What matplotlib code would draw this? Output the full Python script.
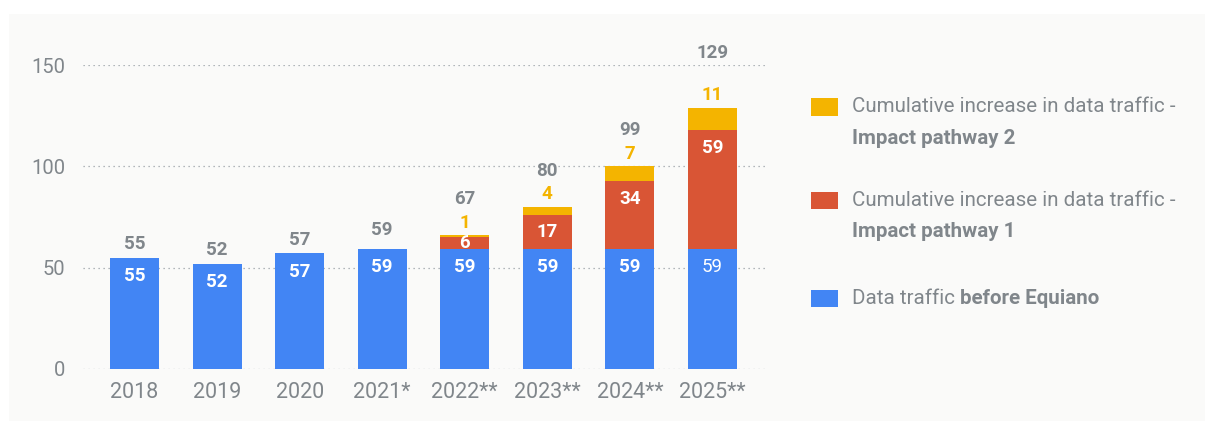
import matplotlib.pyplot as plt
from matplotlib.patches import Rectangle

# Data traffic per year, split into baseline and the two impact pathways
years = ['2018', '2019', '2020', '2021*', '2022**', '2023**', '2024**', '2025**']
before_equiano = [55, 52, 57, 59, 59, 59, 59, 59]
pathway_1 = [0, 0, 0, 0, 6, 17, 34, 59]
pathway_2 = [0, 0, 0, 0, 1, 4, 7, 11]
totals = [55, 52, 57, 59, 67, 80, 99, 129]

BLUE = '#4285F4'
RED = '#D95535'
YELLOW = '#F4B400'
GRAY = '#80868B'
PANEL = '#FAFAF9'

plt.rcParams['font.family'] = ['Roboto', 'DejaVu Sans']

W, H = 1205, 421
fig = plt.figure(figsize=(W / 100, H / 100), dpi=100)
fig.patch.set_facecolor('white')
fig.patches.append(Rectangle((9 / W, 0), 1 - 9 / W, (H - 14) / H,
                             transform=fig.transFigure, facecolor=PANEL,
                             edgecolor='none', zorder=-10))

ax = fig.add_axes([83 / W, (H - 369) / H, 685 / W, 304 / H])
ax.set_facecolor('none')
for s in ax.spines.values():
    s.set_visible(False)

x = list(range(len(years)))
width = 0.593
bottom_red = before_equiano
bottom_yellow = [b + r for b, r in zip(before_equiano, pathway_1)]
stack_top = [b + y for b, y in zip(bottom_yellow, pathway_2)]

ax.bar(x, before_equiano, width, color=BLUE, zorder=3)
ax.bar(x, pathway_1, width, bottom=bottom_red, color=RED, zorder=3)
ax.bar(x, pathway_2, width, bottom=bottom_yellow, color=YELLOW, zorder=3)

ax.set_xlim(-0.624, 7.672)
ax.set_ylim(0, 150)
ax.set_yticks([0, 50, 100, 150])
ax.set_xticks(x)
ax.set_xticklabels(years)
ax.tick_params(axis='y', length=0, pad=13, labelsize=14.5, labelcolor=GRAY)
ax.tick_params(axis='x', length=0, pad=9, labelsize=15.5, labelcolor=GRAY)
ax.grid(axis='y', linestyle=(0, (1, 3)), color='#9AA0A6', linewidth=0.9, zorder=0)


def inner_label(xi, top, seg, text, weight='bold'):
    # label near the top of a segment, or centred when the segment is small
    off = min(13, seg * 2.027 / 2 * 0.72)
    ax.annotate(text, (xi, top), xytext=(0, -off), textcoords='offset points',
                ha='center', va='center', color='white', fontsize=13.5,
                fontweight=weight, zorder=5)


total_pad = [10, 10, 10, 14, 26, 26, 26, 39]

for i in x:
    weight = 'normal' if i == len(x) - 1 else 'bold'
    inner_label(i, before_equiano[i], before_equiano[i], str(before_equiano[i]), weight)
    if pathway_1[i]:
        inner_label(i, bottom_yellow[i], pathway_1[i], str(pathway_1[i]))
    if pathway_2[i]:
        ax.annotate(str(pathway_2[i]), (i, stack_top[i]), xytext=(0, 9),
                    textcoords='offset points', ha='center', va='center',
                    color=YELLOW, fontsize=13.5, fontweight='bold',
                    annotation_clip=False)
    ax.annotate(str(totals[i]), (i, stack_top[i]), xytext=(0, total_pad[i]),
                textcoords='offset points', ha='center', va='center',
                color=GRAY, fontsize=13.5, fontweight='bold',
                annotation_clip=False)

# Legend on the right
legend_items = [
    (YELLOW, 107, [('Cumulative increase in data traffic -', 'normal')],
     [('Impact pathway 2', 'bold')]),
    (RED, 200, [('Cumulative increase in data traffic -', 'normal')],
     [('Impact pathway 1', 'bold')]),
    (BLUE, 298, [('Data traffic ', 'normal'), ('before Equiano', 'bold')], None),
]

fig.canvas.draw()
renderer = fig.canvas.get_renderer()


def put_line(parts, x0, y0):
    xp = x0
    for txt, weight in parts:
        t = fig.text(xp / W, 1 - y0 / H, txt, ha='left', va='center',
                     fontsize=14.8, color=GRAY, fontweight=weight)
        xp += t.get_window_extent(renderer).width


for color, yc, line1, line2 in legend_items:
    fig.patches.append(Rectangle((811 / W, 1 - (yc + 8.5) / H), 27 / W, 17 / H,
                                 transform=fig.transFigure, facecolor=color,
                                 edgecolor='none'))
    put_line(line1, 852, yc)
    if line2:
        put_line(line2, 852, yc + 31)

fig.savefig('out.png', dpi=100, facecolor=fig.get_facecolor())
